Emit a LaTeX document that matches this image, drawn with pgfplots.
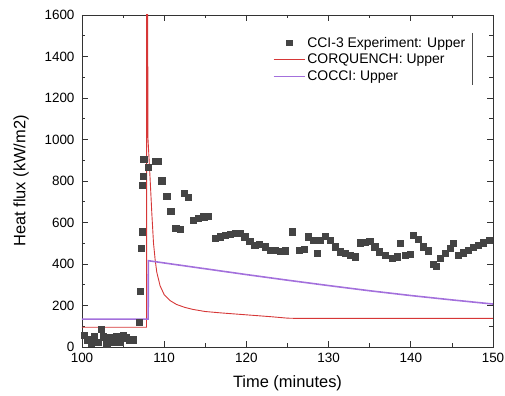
\documentclass[border=0pt]{standalone}
\usepackage{pgfplots}
\pgfplotsset{compat=1.18}
\usepackage{fontspec}
\setmainfont{Liberation Sans}
\definecolor{expc}{RGB}{68,68,68}
\definecolor{redc}{RGB}{214,55,55}
\definecolor{purc}{RGB}{163,112,220}
\pgfplotsset{
  redlegend/.style={legend image code/.code={\draw[draw=redc,line width=1.1pt] (0cm,0cm) -- (1.1cm,0cm);}},
  purlegend/.style={legend image code/.code={\draw[draw=purc,line width=1.1pt] (0cm,0cm) -- (1.1cm,0cm);}},
  marklegend/.style={legend image code/.code={\draw[##1,mark size=2.6bp,mark repeat=2,mark phase=2] plot coordinates {(0cm,0cm)(0.55cm,0cm)(1.1cm,0cm)};}},
}
\begin{document}
\begin{tikzpicture}
\useasboundingbox (-82bp,-49bp) rectangle (423bp,347bp);
\begin{axis}[
  at={(0,0)}, anchor=south west,
  scale only axis,
  width=411bp, height=332bp,
  xmin=100, xmax=150, ymin=0, ymax=1600,
  xtick={100,110,...,150}, ytick={0,200,...,1600},
  minor x tick num=1, minor y tick num=1,
  tick align=inside,
  major tick length=6bp, minor tick length=3.5bp,
  every tick/.style={black!80, line width=0.8pt},
  axis line style={black!80, line width=0.8pt},
  /pgf/number format/assume math mode=true,
  /pgf/number format/1000 sep={},
  ticklabel style={font=\fontsize{13.5}{15}\selectfont},
  xticklabel style={yshift=-3bp},
  yticklabel style={xshift=-4bp},
  xlabel={Time (minutes)}, ylabel={Heat flux (kW/m2)},
  label style={font=\fontsize{16.5}{18}\selectfont},
  xlabel style={at={(axis description cs:0.5,0)}, anchor=center, yshift=-36bp},
  ylabel style={at={(axis description cs:0,0.5)}, anchor=center, yshift=61bp},
  legend style={draw=none, fill=none, at={(rel axis cs:0.462,0.943)}, anchor=north west,
    font=\fontsize{14}{15}\selectfont, row sep=1.5bp, inner sep=1bp},
  legend cell align=left,
]
\addplot[only marks, mark=square*, mark size=3.1bp, color=expc, marklegend]
coordinates {
(100.3,55)(100.7,35)(101.1,20)(101.5,50)(101.9,25)(102.3,87)(102.6,50)(103.0,15)(103.4,45)(103.8,25)(104.2,50)(104.6,25)(105.0,55)(105.4,45)(105.8,35)(106.2,35)
(107.0,120)(107.1,267)(107.2,476)(107.3,556)(107.35,781)(107.4,824)(107.5,904)(108.1,865)(108.9,896)(109.2,896)(109.7,801)(110.3,728)(110.8,655)(111.4,572)(111.9,567)(112.4,741)(112.9,721)(113.5,612)(114.1,620)(114.8,628)(115.3,631)
(116.2,524)(116.8,532)(117.4,540)(118.0,545)(118.6,548)(119.2,548)(119.8,532)(120.4,508)(121.0,492)(121.6,496)(122.3,483)(122.9,467)(123.5,467)(124.1,462)(124.7,464)(125.6,556)(126.4,467)(127.0,471)(127.5,532)(128.1,516)(128.6,452)(129.0,516)(129.6,535)(130.2,516)(130.8,483)(131.4,459)(132.0,452)(132.6,443)(133.2,435)(133.8,503)(134.4,505)(135.0,508)(135.6,483)(136.2,459)(136.9,443)(137.7,427)(138.3,435)(138.7,500)(139.3,443)(139.9,448)(140.3,540)(140.9,519)(141.5,483)(142.1,464)(142.7,400)(143.1,390)(143.6,427)(144.2,452)(144.8,476)(145.2,500)(145.8,443)(146.4,454)(147.0,467)(147.6,480)(148.2,492)(148.8,503)(149.5,513)
};
\addlegendentry{CCI-3 Experiment: Upper}
\addplot[color=redc, line width=0.9pt, redlegend]
coordinates {
(100,95)(107.85,95)(107.87,1700)(107.99,1700)(108.02,1010)(108.3,800)(108.5,640)(108.7,500)(108.9,420)(109.1,360)(109.5,295)(110,252)(110.7,224)(111.5,205)(112.5,191)(113.5,181)(115,171)(117,164)(119,158)(121,152)(123,146)(125,139)(126,138)(150,138)
};
\addlegendentry{CORQUENCH: Upper}
\addplot[color=purc, line width=1.6pt, purlegend]
coordinates {
(100,134)(108.05,134)(108.07,416)(110,405)(115,377)(120,349)(125,322)(130,296)(135,271)(140,248)(145,227)(150,207)
};
\addlegendentry{COCCI: Upper}
\draw[black!70, line width=0.6pt] (rel axis cs:0.949,0.946) -- (rel axis cs:0.949,0.789);
\end{axis}
\end{tikzpicture}
\end{document}
